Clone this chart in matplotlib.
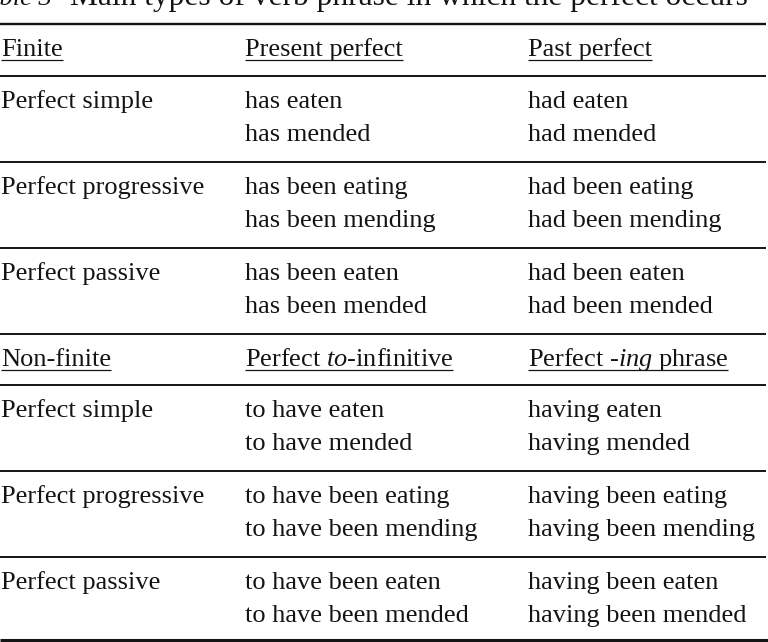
import matplotlib
matplotlib.use('Agg')
import matplotlib.pyplot as plt

# table content
title_tag = "Table 3"
title_text = "Main types of verb phrase in which the perfect occurs"
finite_heads = ["Finite", "Present perfect", "Past perfect"]
nonfinite_heads = ["Non-finite", r"Perfect $\it{to}$-infinitive", r"Perfect -$\it{ing}$ phrase"]
row_labels = ["Perfect simple", "Perfect progressive", "Perfect passive"]
present_forms = [["has eaten", "has mended"],
                 ["has been eating", "has been mending"],
                 ["has been eaten", "has been mended"]]
past_forms = [["had eaten", "had mended"],
              ["had been eating", "had been mending"],
              ["had been eaten", "had been mended"]]
to_inf_forms = [["to have eaten", "to have mended"],
                ["to have been eating", "to have been mending"],
                ["to have been eaten", "to have been mended"]]
ing_forms = [["having eaten", "having mended"],
             ["having been eating", "having been mending"],
             ["having been eaten", "having been mended"]]

plt.rcParams['font.family'] = 'Liberation Serif'
plt.rcParams['mathtext.fontset'] = 'custom'
plt.rcParams['mathtext.rm'] = 'Liberation Serif'
plt.rcParams['mathtext.it'] = 'Liberation Serif:italic'

W, H = 768, 642
fig = plt.figure(figsize=(W / 100, H / 100), dpi=100)
ax = fig.add_axes([0, 0, 1, 1])
ax.set_xlim(0, W)
ax.set_ylim(H, 0)
ax.axis('off')

FS = 19
INK = '#141414'
col_x = [1, 245, 528]
renderer = fig.canvas.get_renderer()


def text_width(t):
    bb = t.get_window_extent(renderer)
    return bb.x1 - bb.x0


def underline(t, y):
    bb = t.get_window_extent(renderer)
    x0 = ax.transData.inverted().transform((bb.x0, 0))[0]
    x1 = ax.transData.inverted().transform((bb.x1, 0))[0]
    ax.plot([x0, x1], [y, y], color=INK, lw=0.9, solid_capstyle='butt')


def section(top, heads, rows_a, rows_b, first_line):
    ax.hlines(top, 0, 766, color=INK, lw=1.7 if first_line else 1.4)
    base = top + 32
    for x, h in zip(col_x, heads):
        t = ax.text(x, base, h, fontsize=FS, color=INK, va='baseline')
        underline(t, base + 4)
    row_top = top + 52 if first_line else top + 51
    for i, lab in enumerate(row_labels):
        y0 = row_top + i * 86
        ax.hlines(y0, 0, 766, color=INK, lw=1.4)
        b = y0 + 32
        ax.text(col_x[0], b, lab, fontsize=FS, color=INK, va='baseline')
        for j, line in enumerate(rows_a[i]):
            ax.text(col_x[1], b + 33 * j, line, fontsize=FS, color=INK, va='baseline')
        for j, line in enumerate(rows_b[i]):
            ax.text(col_x[2], b + 33 * j, line, fontsize=FS, color=INK, va='baseline')
    return row_top + 3 * 86


# title, cut at the top edge like the source scan
ax.text(52, 5, title_tag, fontsize=19, style='italic', color=INK,
        va='baseline', ha='right')
tt = ax.text(70, 5, title_text, fontsize=21, color=INK, va='baseline')
tt.set_fontsize(21 * 677 / text_width(tt))

section(24, finite_heads, present_forms, past_forms, True)
section(334, nonfinite_heads, to_inf_forms, ing_forms, False)
ax.hlines(640, 0, 768, color=INK, lw=2.2)

fig.savefig('out.png', dpi=100)
